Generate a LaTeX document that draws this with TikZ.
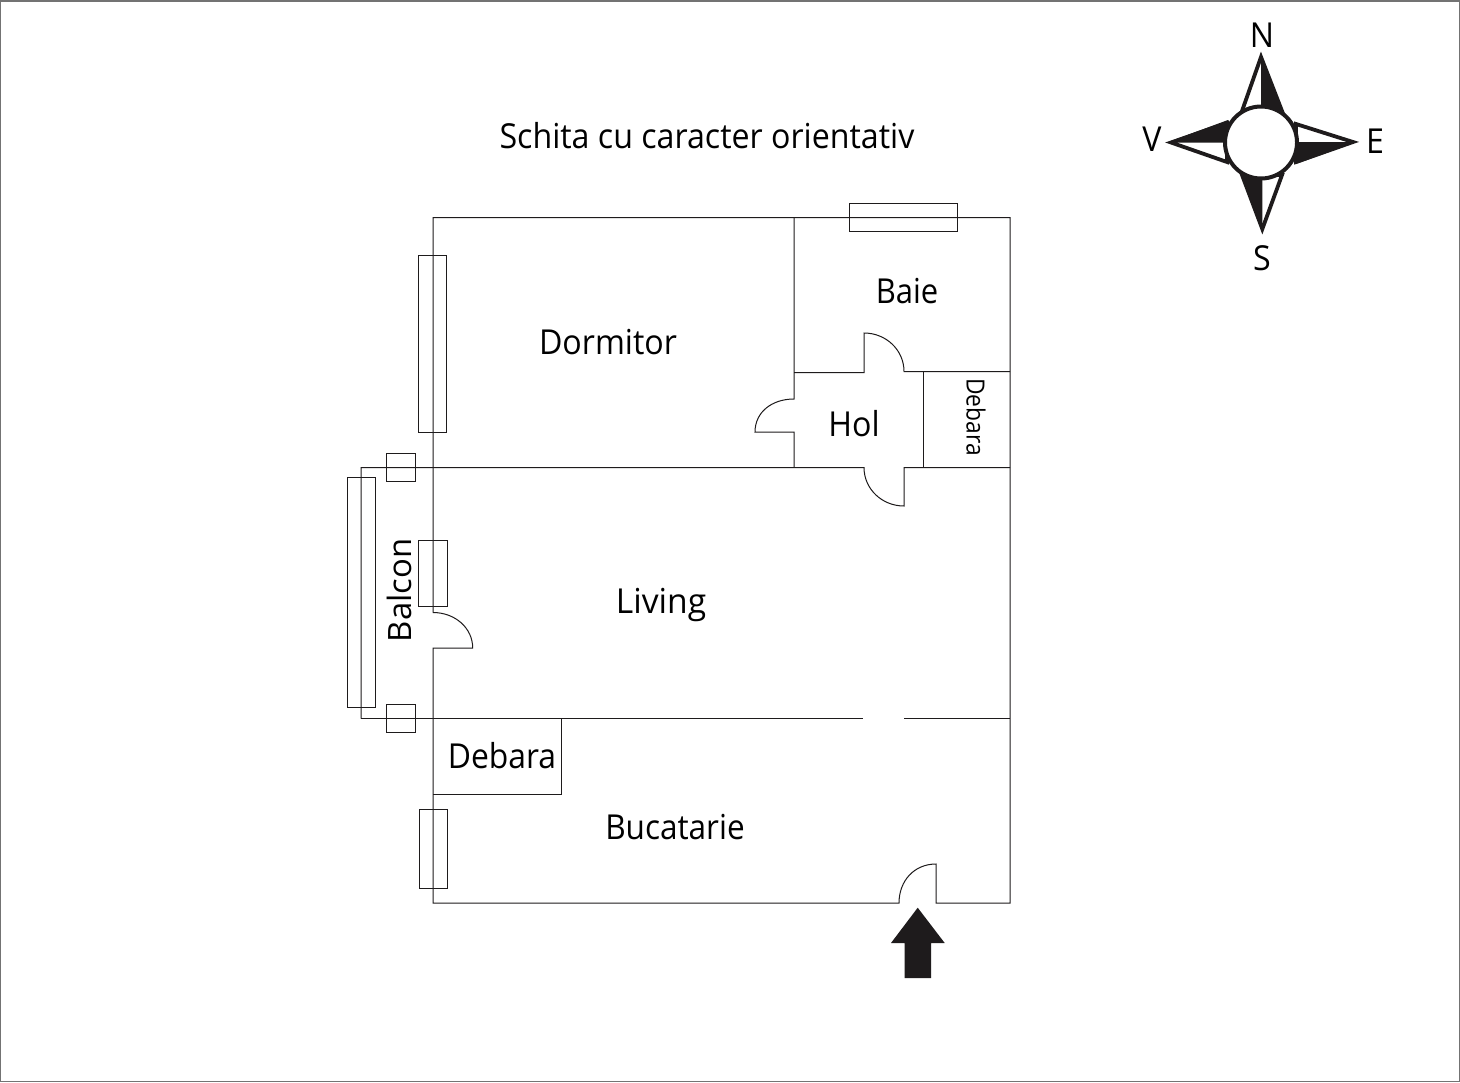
\documentclass[tikz,border=0pt]{standalone}
\usepackage{fontspec}
\setmainfont{Open Sans}
\definecolor{ink}{RGB}{30,27,28}
\tikzset{
  wall/.style={draw=ink,line width=0.5pt,line join=miter},
  frameline/.style={draw=black!55,line width=0.8pt},
  lbl/.style={inner sep=0pt,font=\fontsize{17.2}{20}\selectfont,text=black,xscale=0.935},
  compassline/.style={draw=ink,line width=1.9pt,line join=miter,miter limit=10,fill=white},
  inkfill/.style={fill=ink,draw=none},
}
\begin{document}
\begin{tikzpicture}[x=0.5pt,y=-0.5pt]
\useasboundingbox (0,0) rectangle (1460,1082);
\fill[white] (0,0) rectangle (1460,1082);
\draw[frameline] (0.7,0.7) rectangle (1459.3,1081.3);
% outer walls
\draw[wall] (433,612.5) -- (433,217.5) -- (1010,217.5) -- (1010,903) -- (936,903) -- (936,864)
  .. controls (914,864) and (899,881) .. (899,903) -- (433,903) -- (433,648) -- (472.7,648)
  .. controls (472.7,628) and (455,612.5) .. (433,612.5);
% Dormitor / Baie wall and Hol
\draw[wall] (794,217.5) -- (794,399) .. controls (772,399) and (755,412) .. (755,432) -- (794,432) -- (794,467.5);
\draw[wall] (794,372.5) -- (864,372.5) -- (864,333) .. controls (886,333) and (904,350) .. (904,371.5) -- (1010,371.5);
\draw[wall] (923.5,371.5) -- (923.5,467.5);
\draw[wall] (361,718.5) -- (361,467.5) -- (864,467.5) .. controls (864,489) and (882,506) .. (904,506) -- (904,467.5) -- (1010,467.5);
\draw[wall] (361,718.5) -- (863,718.5);
\draw[wall] (904,718.5) -- (1010,718.5);
\draw[wall] (433,794.5) -- (561,794.5) -- (561,718.5);
% windows and balcony
\draw[wall] (418.5,255.5) rectangle (446.5,432.5);
\draw[wall] (418.7,540.5) rectangle (447.3,606.5);
\draw[wall] (419,809.5) rectangle (447,888.5);
\draw[wall] (849,203.5) rectangle (957,231.5);
\draw[wall] (347.3,477.5) rectangle (375.3,707.5);
\draw[wall] (386.8,453.5) rectangle (415.7,481.5);
\draw[wall] (386.8,704.5) rectangle (415.7,732.5);
% entrance arrow
\fill[inkfill] (917.7,907.7) -- (944.7,943) -- (931,943) -- (931,978) -- (904.7,978) -- (904.7,943) -- (891,943) -- cycle;
% compass arms
\draw[compassline] (1261,57) -- (1282,111) -- (1242,111) -- cycle;
\draw[compassline] (1353,142) -- (1296,162) -- (1296,124) -- cycle;
\draw[compassline] (1262.3,229) -- (1242,175) -- (1282,175) -- cycle;
\draw[compassline] (1171,142.5) -- (1227,123) -- (1227,162) -- cycle;
\fill[inkfill] (1261,53) -- (1283,112) -- (1261,112) -- cycle;
\fill[inkfill] (1356.5,142) -- (1296,164) -- (1296,142) -- cycle;
\fill[inkfill] (1262.3,233) -- (1241,172) -- (1262.3,172) -- cycle;
\fill[inkfill] (1167,142.5) -- (1228,120) -- (1228,142.5) -- cycle;
\draw[draw=ink,line width=2pt,fill=white] (1261,142.5) circle[radius=36];
% labels
\node[lbl] (title) at (707,136) {Schita cu caracter orientativ};
\node[lbl] (dormitor) at (608,342) {Dormitor};
\node[lbl,xscale=0.963] (baie) at (907,291) {Baie};
\node[lbl] (hol) at (854,424) {Hol};
\node[lbl,rotate=-90,xscale=0.85,font=\fontsize{13.4}{15}\selectfont] (debara2) at (976,417) {Debara};
\node[lbl,rotate=90,xscale=0.955] (balcon) at (399,590.5) {Balcon};
\node[lbl,xscale=1.045] (living) at (661,604.5) {Living};
\node[lbl,xscale=0.99] (debara1) at (502,756) {Debara};
\node[lbl,xscale=0.98] (bucatarie) at (675,827) {Bucatarie};
\node[lbl] (n) at (1262,35) {N};
\node[lbl] (v) at (1152,139) {V};
\node[lbl] (e) at (1375,141) {E};
\node[lbl] (s) at (1262,258) {S};
\end{tikzpicture}
\end{document}
